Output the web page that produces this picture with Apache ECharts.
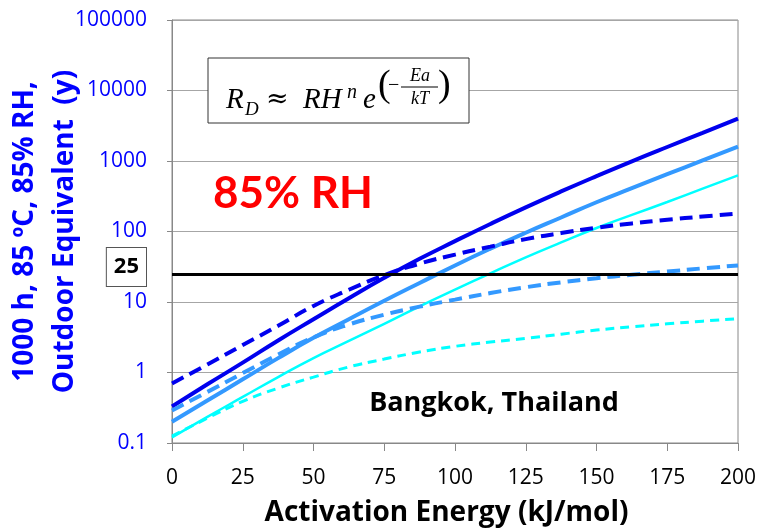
<!DOCTYPE html>
<html><head><meta charset="utf-8">
<script src="https://cdn.jsdelivr.net/npm/echarts@6/dist/echarts.min.js"></script>
<style>html,body{margin:0;padding:0;background:#fff}#c{width:757px;height:530px}</style>
</head><body><div id="c"></div>
<script>
const eaValues = [0,12.5,25,37.5,50,62.5,75,87.5,100,112.5,125,137.5,150,162.5,175,187.5,200];
const darkSolid   = [0.33,0.68,1.38,2.85,5.7,11.3,22,41,73,128,220,370,610,990,1580,2500,4000];
const mediumSolid = [0.20,0.40,0.80,1.6,3.1,5.7,10.4,18.6,33,57,96,158,260,412,650,1020,1600];
const cyanSolid   = [0.12,0.235,0.45,0.86,1.6,2.8,4.9,8.7,15,25.5,43,70,112,172,262,405,625];
const darkDashed  = [0.70,1.3,2.45,4.6,8.8,14.9,24,35,47,61,78,95,113,130,147,163,180];
const mediumDashed= [0.29,0.53,0.98,1.8,3.15,4.8,6.6,8.6,10.8,13.4,16.2,19,21.7,24.4,27,30,33];
const cyanDashed  = [0.125,0.225,0.39,0.6,0.86,1.2,1.55,1.95,2.35,2.7,3.05,3.5,4.0,4.45,4.9,5.35,5.8];
const refValue = 25;
const yTickLabels = ['0.1','1','10','100','1000','10000','100000'];
const xTickLabels = ['0','25','50','75','100','125','150','175','200'];

const FONT = '"Open Sans"';
const BLUE = '#0000FF';
const pts = arr => eaValues.map((x,i)=>[x,arr[i]]);
function lineSeries(name, arr, color, width, dashed){
  return {name, type:'line', data:pts(arr), smooth:true, showSymbol:false, symbol:'none',
    lineStyle:{color, width, type: dashed ? dashed : 'solid', cap:'butt'}, silent:true, animation:false};
}
const SERIF = '"Liberation Serif"';
function ftxt(text, x, y, font){
  return {type:'text', x, y, z:11, style:{text, font, fill:'#000', verticalAlign:'middle', align:'left'}};
}
const chart = echarts.init(document.getElementById('c'), null, {renderer:'canvas'});
chart.setOption({
  animation:false,
  backgroundColor:'#fff',
  grid:{left:172, right:19, top:20, bottom:87, containLabel:false, outerBoundsMode:'none',
    show:true, borderColor:'#888', borderWidth:1, backgroundColor:'transparent'},
  xAxis:{type:'value', min:0, max:200, interval:25,
    axisLine:{show:true, lineStyle:{color:'#888', width:1}},
    axisTick:{show:true, inside:false, length:8, lineStyle:{color:'#888'}},
    splitLine:{show:false},
    axisLabel:{color:'#000', fontSize:21, fontFamily:FONT, margin:25,
      formatter:(v)=>xTickLabels[Math.round(v/25)]},
    name:'Activation Energy (kJ/mol)', nameLocation:'middle', nameGap:56, nameMoveOverlap:false,
    nameTextStyle:{color:'#000', fontSize:28, fontWeight:'bold', fontFamily:FONT, padding:[0,17,0,0]}
  },
  yAxis:{type:'log', logBase:10, min:0.1, max:100000,
    axisLine:{show:true, lineStyle:{color:'#888', width:1}},
    axisTick:{show:true, inside:false, length:5, lineStyle:{color:'#888'}},
    minorTick:{show:false},
    splitLine:{show:true, lineStyle:{color:'#a6a6a6', width:1}},
    axisLabel:{color:BLUE, fontSize:21, fontFamily:FONT, margin:25,
      formatter:(v)=>yTickLabels[Math.round(Math.log10(v))+1]},
    name:'1000 h, 85 \u00baC, 85% RH,\nOutdoor Equivalent  (y)', nameLocation:'middle', nameGap:87, nameMoveOverlap:false,
    nameTextStyle:{color:BLUE, fontSize:28, fontWeight:'bold', fontFamily:FONT, lineHeight:40}
  },
  series:[
    {type:'line', data:[], silent:true,
      markLine:{silent:true, symbol:'none', animation:false,
        data:[{yAxis:refValue}],
        lineStyle:{color:'#000', width:3, type:'solid'},
        label:{show:true, position:'start', distance:26, formatter:String(refValue), offset:[0,-7],
          color:'#000', fontWeight:'bold', fontSize:22, fontFamily:FONT, lineHeight:24,
          borderColor:'#555', borderWidth:1, backgroundColor:'#fff', padding:[8,7,6,7]}
      }},
    lineSeries('darkSolid', darkSolid, '#0000EE', 4),
    lineSeries('mediumSolid', mediumSolid, '#3399FF', 4),
    lineSeries('cyanSolid', cyanSolid, '#00FFFF', 2.5),
    lineSeries('darkDashed', darkDashed, '#0000EE', 4, [13,7]),
    lineSeries('mediumDashed', mediumDashed, '#3399FF', 4, [13,7]),
    lineSeries('cyanDashed', cyanDashed, '#00FFFF', 3, [9,6])
  ],
  graphic:[
    {type:'rect', shape:{x:208, y:58, width:261, height:65}, style:{fill:'#fff', stroke:'#333', lineWidth:1}, z:10},
    ftxt('R', 226, 100, 'italic 29px ' + SERIF),
    ftxt('D', 245, 110, 'italic 19px ' + SERIF),
    ftxt('\u2248', 266, 100, '27px "DejaVu Serif"'),
    ftxt('RH', 303, 100, 'italic 29px ' + SERIF),
    ftxt('n', 347, 93, 'italic 20px ' + SERIF),
    ftxt('e', 363, 100, 'italic 29px ' + SERIF),
    ftxt('(', 378, 86, '38px ' + SERIF),
    ftxt('\u2212', 388, 86, '20px ' + SERIF),
    ftxt('Ea', 410, 76, 'italic 18px ' + SERIF),
    {type:'line', shape:{x1:401, y1:87, x2:438, y2:87}, style:{stroke:'#000', lineWidth:1.2}, z:11},
    ftxt('kT', 411, 99, 'italic 18px ' + SERIF),
    ftxt(')', 438, 86, '38px ' + SERIF),
    {type:'text', x:213, y:194, z:11, style:{text:'85% RH', font:'bold 44px Lato', fill:'#FF0000', verticalAlign:'middle'}},
    {type:'text', x:494, y:403, z:11, style:{text:'Bangkok, Thailand', font:'bold 27px "Open Sans"', fill:'#000', align:'center', verticalAlign:'middle'}}
  ]
});
</script></body></html>
